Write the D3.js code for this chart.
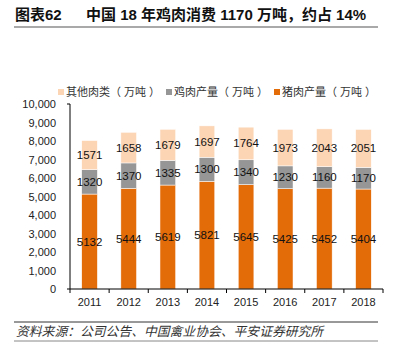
<!DOCTYPE html>
<html>
<head>
<meta charset="utf-8">
<script src="https://cdn.jsdelivr.net/npm/d3@7"></script>
<style>
  body { margin: 0; background: #fff; }
  svg { display: block; font-family: "Liberation Sans", Arial, "Noto Sans CJK SC", sans-serif; }
</style>
</head>
<body>
<div id="chart"></div>
<script>
// data
const years = ["2011", "2012", "2013", "2014", "2015", "2016", "2017", "2018"];
const pork = [5132, 5444, 5619, 5821, 5645, 5425, 5452, 5404];
const chicken = [1320, 1370, 1335, 1300, 1340, 1230, 1160, 1170];
const other = [1571, 1658, 1679, 1697, 1764, 1973, 2043, 2051];
const seriesKeys = ["pork", "chicken", "other"];
const seriesNames = ["猪肉产量（ 万吨 ）", "鸡肉产量（ 万吨 ）", "其他肉类（ 万吨 ）"];
const colors = ["#e36c09", "#969696", "#fcd5b5"];
const yTicks = [0, 1000, 2000, 3000, 4000, 5000, 6000, 7000, 8000, 9000, 10000];

const width = 396, height = 349;
const plot = { left: 70, right: 383, top: 104, bottom: 289 };
const latin = "'Liberation Sans', Arial, sans-serif";

const svg = d3.select("#chart").append("svg")
    .attr("width", width)
    .attr("height", height);

// title + rule
svg.append("text")
    .attr("x", 15).attr("y", 20)
    .attr("font-size", 15).attr("font-weight", "bold").attr("fill", "#111")
    .text("图表62");
svg.append("text")
    .attr("x", 86).attr("y", 20)
    .attr("font-size", 15).attr("font-weight", "bold").attr("fill", "#111")
    .text("中国 18 年鸡肉消费 1170 万吨，约占 14%");
svg.append("line")
    .attr("x1", 14).attr("x2", 378).attr("y1", 27).attr("y2", 27)
    .attr("stroke", "#555").attr("stroke-width", 1.2);

const table = years.map((y, i) => ({ year: y, pork: pork[i], chicken: chicken[i], other: other[i] }));
const stacked = d3.stack().keys(seriesKeys)(table);

const x = d3.scaleBand().domain(years).range([plot.left, plot.right]).paddingInner(0.6).paddingOuter(0.3);
const y = d3.scaleLinear().domain([0, 10000]).range([plot.bottom, plot.top]);

// bars
const groups = svg.append("g").selectAll("g")
    .data(stacked)
    .join("g")
    .attr("fill", (d, i) => colors[i]);

groups.selectAll("rect")
    .data(d => d)
    .join("rect")
    .attr("x", d => x(d.data.year))
    .attr("width", x.bandwidth())
    .attr("y", d => y(d[1]))
    .attr("height", d => y(d[0]) - y(d[1]))
    .attr("stroke", "#fff")
    .attr("stroke-width", 0.5);

// value labels
groups.selectAll("text")
    .data(d => d.map(v => ({ v, key: d.key })))
    .join("text")
    .attr("x", d => x(d.v.data.year) + x.bandwidth() / 2)
    .attr("y", d => y((d.v[0] + d.v[1]) / 2))
    .attr("dy", "0.35em")
    .attr("text-anchor", "middle")
    .attr("font-size", 11.5)
    .attr("font-family", latin)
    .attr("fill", "#111")
    .text(d => d.v.data[d.key]);

// y axis
const yAxis = svg.append("g")
    .attr("transform", `translate(${plot.left},0)`)
    .call(d3.axisLeft(y).tickValues(yTicks).tickFormat(d3.format(",")).tickSize(0).tickPadding(14));
yAxis.select(".domain").attr("stroke", "#000").attr("d", `M-3,${plot.top}H0V${plot.bottom}H-3`);
yAxis.selectAll("text").attr("font-size", 11).attr("fill", "#222")
    .attr("font-family", latin);

// x axis
const xAxis = svg.append("g")
    .attr("transform", `translate(0,${plot.bottom})`)
    .call(d3.axisBottom(x).tickSize(0).tickPadding(9));
xAxis.select(".domain").attr("stroke", "#000").attr("d", `M${plot.left},0H${plot.right}`);
xAxis.selectAll("text").attr("font-size", 11).attr("fill", "#222")
    .attr("font-family", latin);
// category separators
xAxis.selectAll(".sep")
    .data(d3.range(years.length + 1))
    .join("line")
    .attr("x1", i => plot.left + i * x.step())
    .attr("x2", i => plot.left + i * x.step())
    .attr("y1", 0).attr("y2", 4)
    .attr("stroke", "#000");

// legend: other, chicken, pork
const legendOrder = [2, 1, 0];
const legendX = [58, 166, 274];
const legend = svg.append("g").selectAll("g")
    .data(legendOrder)
    .join("g")
    .attr("transform", (d, i) => `translate(${legendX[i]},92)`);
legend.append("rect")
    .attr("x", 0).attr("y", -3).attr("width", 6).attr("height", 6)
    .attr("fill", d => colors[d]);
legend.append("text")
    .attr("x", 8).attr("y", 0).attr("dy", "0.36em")
    .attr("font-size", 11).attr("fill", "#333")
    .text(d => seriesNames[d]);

// source
svg.append("line")
    .attr("x1", 14).attr("x2", 378).attr("y1", 322).attr("y2", 322)
    .attr("stroke", "#333").attr("stroke-width", 1);
svg.append("text")
    .attr("x", 16).attr("y", 336)
    .attr("font-size", 12.8).attr("font-style", "italic").attr("fill", "#333")
    .text("资料来源：公司公告、中国禽业协会、平安证券研究所");
svg.append("line")
    .attr("x1", 14).attr("x2", 378).attr("y1", 341).attr("y2", 341)
    .attr("stroke", "#888").attr("stroke-width", 1);
</script>
</body>
</html>
